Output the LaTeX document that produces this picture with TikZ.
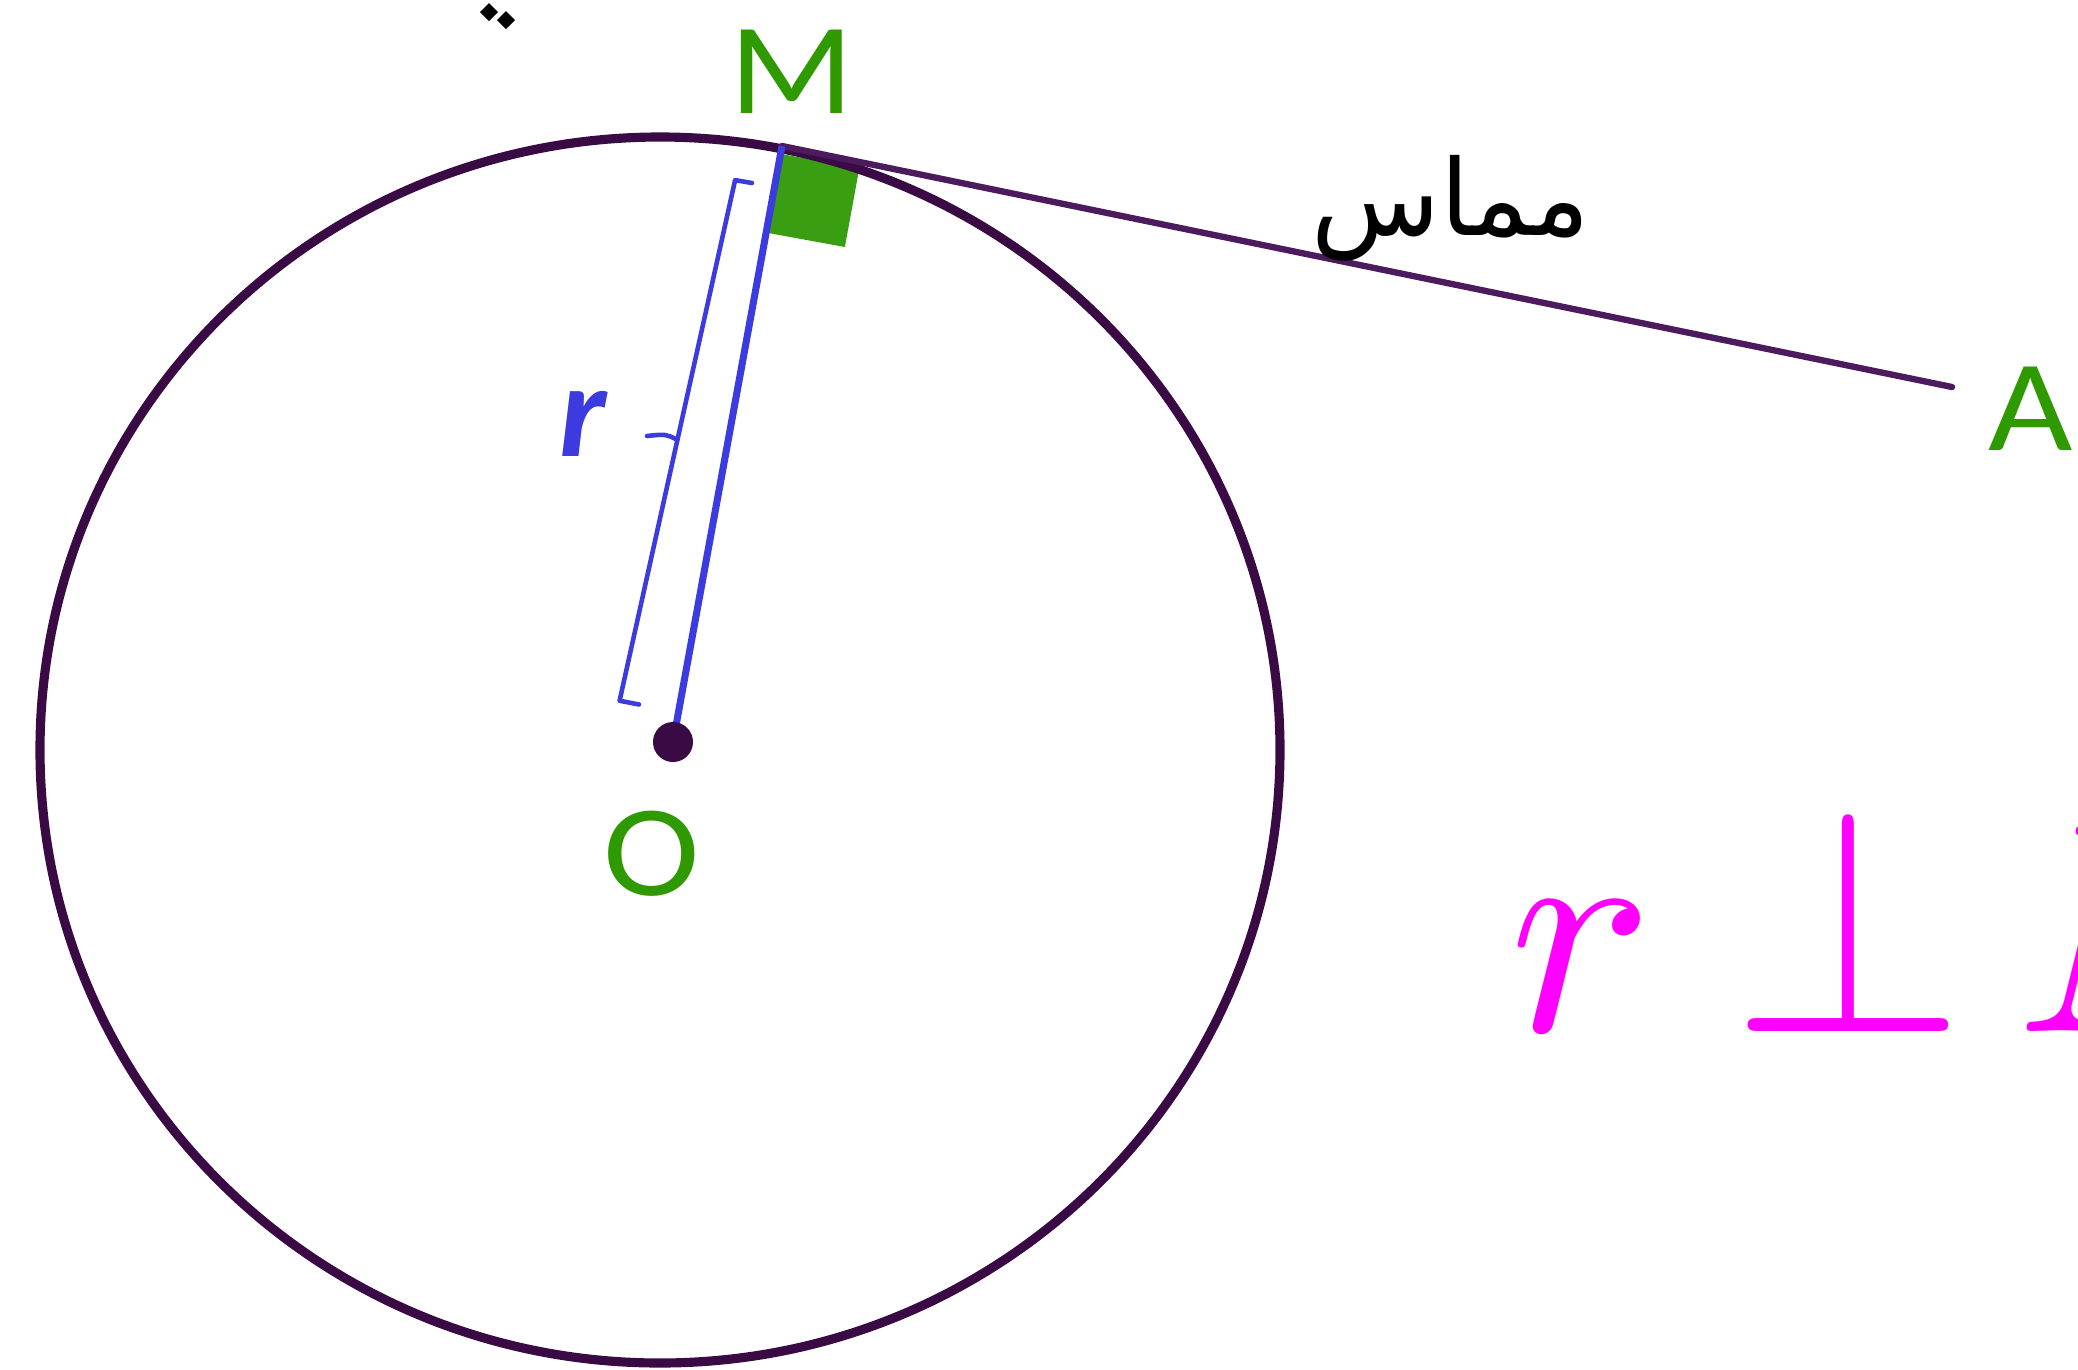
\documentclass[tikz,border=0pt]{standalone}
\usepackage{fontspec}
\usepackage{graphicx}
\usetikzlibrary{calc}
\setmainfont{Carlito}
\newfontfamily\arabicfont[Script=Arabic]{DejaVu Sans}
\TeXXeTstate=1
\definecolor{circ}{HTML}{3A0A45}
\definecolor{tang}{HTML}{4B1B5E}
\definecolor{lblgreen}{HTML}{2E9A00}
\definecolor{sqgreen}{HTML}{3A9E12}
\definecolor{radblue}{HTML}{3B3BE0}
\definecolor{mag}{HTML}{FF00FF}
\tikzset{
  ptlabel/.style={text=lblgreen, font=\fontsize{37}{40}\selectfont, inner sep=0pt, anchor=base, xscale=1.12},
  bracketline/.style={radblue, line width=1.3pt, line cap=round, line join=round},
}
\begin{document}
\begin{tikzpicture}[x=0.01cm, y=-0.01cm]
\useasboundingbox (0,0) rectangle (2078,1369);
\clip (0,0) rectangle (2078,1369);
% points
\coordinate (M) at (782,146);
\coordinate (Oc) at (673,742);
\coordinate (Aend) at (1952,387);
% right-angle marker
\coordinate (Ms) at ($(M)!0.08cm!(Oc)$);
\coordinate (Mo) at ($(Ms)!0.8cm!(Oc)$);
\coordinate (Ma) at ($(Ms)!0.8cm!90:(Oc)$);
\fill[sqgreen] (Ms) -- (Ma) -- ($(Ma)+(Mo)-(Ms)$) -- (Mo) -- cycle;
% circle and tangent
\draw[circ, line width=2.6pt] (660,750) ellipse [x radius=620, y radius=613];
\draw[tang, line width=1.8pt, line cap=round] (M) -- (Aend);
% radius
\draw[radblue, line width=2pt] (M) -- (Oc);
\node[circle, fill=circ, minimum size=0.4cm, inner sep=0pt] (O) at (Oc) {};
% bracket
\draw[bracketline] (752,183.0) -- (735.1,180.1) -- (677.4,439.9) -- (619.6,700.7) -- (639,704.5);
\draw[bracketline] (677.4,439.9) .. controls (666,434) .. (647,436);
\node[text=radblue, font=\fontsize{38}{42}\selectfont\bfseries\itshape, inner sep=0pt] (rlab) at (583,424) {r};
% labels
\node[ptlabel] (Mlab) at (792,113) {M};
\node[ptlabel] (Olab) at (652,895) {O};
\node[ptlabel, anchor=base west] (Alab) at (1988,450) {A};
\node[font=\arabicfont\fontsize{30}{34}\selectfont, inner sep=0pt] (tlab) at (1451,208) {\beginR مماس\endR};
% formula
\node[text=mag, anchor=base west, inner sep=0pt, scale=8.54] (formula) at (1503,1031) {$r\mkern4.7mu\scalebox{1}[1.08]{$\perp$}\mkern3mu MA$};
% dots of cut-off text
\fill[black] (489,3) -- (498,12) -- (489,21) -- (480,12) -- cycle;
\fill[black] (506,11) -- (515,20) -- (506,29) -- (497,20) -- cycle;
\end{tikzpicture}
\end{document}
